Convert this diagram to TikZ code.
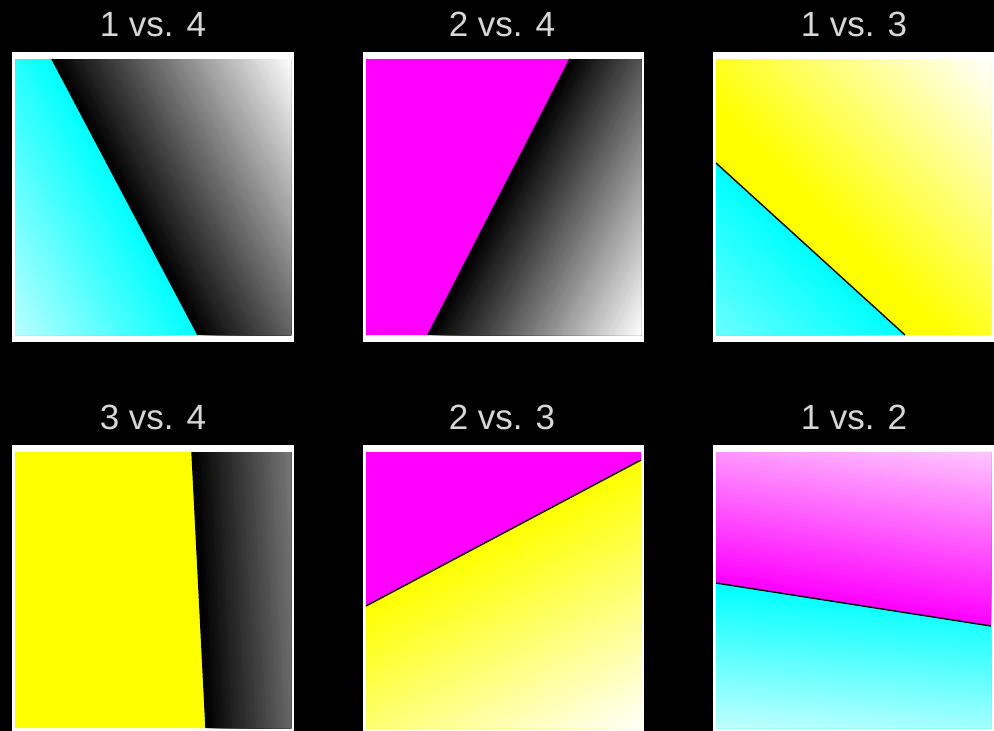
\documentclass[tikz,border=0pt]{standalone}
\usepackage{fontspec}
\setmainfont{Liberation Sans}
\definecolor{cc}{RGB}{0,255,255}
\definecolor{mm}{RGB}{255,0,255}
\definecolor{yy}{RGB}{255,255,0}
\definecolor{titlegray}{RGB}{215,215,215}
% linear gradient inside the current clip: start (#1,#2), vector (#3,#4), colours #5 -> #6
\newcommand\gradfill[6]{%
  \pgfmathsetmacro\gl{veclen(#3,#4)}%
  \pgfmathsetmacro\gux{(#3)/\gl}%
  \pgfmathsetmacro\guy{(#4)/\gl}%
  \fill[#5] (-50,-50) rectangle (1050,800);
  \foreach \gi in {1,...,80}{%
    \pgfmathsetmacro\gt{\gi/80}%
    \pgfmathtruncatemacro\gp{round(100*\gt)}%
    \pgfmathsetmacro\sx{#1+\gt*(#3)}%
    \pgfmathsetmacro\sy{#2+\gt*(#4)}%
    \fill[#6!\gp!#5] ({\sx-800*\guy},{\sy+800*\gux}) -- ({\sx+800*\guy},{\sy-800*\gux})
      -- ({\sx+800*\guy+800*\gux},{\sy-800*\gux+800*\guy})
      -- ({\sx-800*\guy+800*\gux},{\sy+800*\gux+800*\guy}) -- cycle;
  }%
}
\tikzset{
  title/.style={font=\fontsize{35}{42}\selectfont, text=titlegray, anchor=base, inner sep=0pt},
  frame/.style={fill=white},
  bline/.style={draw=black, line width=1.4pt}
}
\begin{document}
\begin{tikzpicture}[x=1pt,y=-1pt]
\useasboundingbox (0,0) rectangle (994,731);
\clip (0,0) rectangle (994,731);
\fill[black] (0,0) rectangle (994,731);

% titles
\node[title] (t1) at (153,36.5) {1 vs. 4};
\node[title] (t2) at (502,36.5) {2 vs. 4};
\node[title] (t3) at (854,36.5) {1 vs. 3};
\node[title] (t4) at (153,429.5) {3 vs. 4};
\node[title] (t5) at (502,429.5) {2 vs. 3};
\node[title] (t6) at (854,429.5) {1 vs. 2};

% frames
\fill[frame] (12,52) rectangle (294,342);
\fill[frame] (362.5,52) rectangle (644,342);
\fill[frame] (712.5,52) rectangle (1000,342);
\fill[frame] (12,445) rectangle (294,740);
\fill[frame] (362.5,445) rectangle (644,740);
\fill[frame] (712.5,445) rectangle (1000,740);

% ---- panel 1: 1 vs. 4
\coordinate (p1a) at (52,59);
\coordinate (p1b) at (198,335);
\begin{scope}
  \clip (15,59) -- (p1a) -- (p1b) -- (15,335) -- cycle;
  \gradfill{52}{59}{-194.5}{103}{cc}{white}
\end{scope}
\begin{scope}
  \clip (p1a) -- (291,59) -- (291,335) -- (p1b) -- cycle;
  \gradfill{52}{59}{186.5}{-98.7}{black}{white}
\end{scope}
\draw[bline] (p1a) -- (p1b);

% ---- panel 2: 2 vs. 4
\coordinate (p2a) at (570,59);
\coordinate (p2b) at (428,335);
\fill[mm] (366,59) -- (p2a) -- (p2b) -- (366,335) -- cycle;
\begin{scope}
  \clip (p2a) -- (641,59) -- (641,335) -- (p2b) -- cycle;
  \gradfill{570}{59}{168}{86.4}{black}{white}
\end{scope}
\draw[bline] (p2a) -- (p2b);

% ---- panel 3: 1 vs. 3
\coordinate (p3a) at (716,163);
\coordinate (p3b) at (905,335);
\begin{scope}
  \clip (716,59) -- (991,59) -- (991,335) -- (p3b) -- (p3a) -- cycle;
  \gradfill{830}{220}{161}{-161}{yy}{white}
\end{scope}
\begin{scope}
  \clip (p3a) -- (p3b) -- (716,335) -- cycle;
  \gradfill{716}{163}{-202}{222}{cc}{white}
\end{scope}
\draw[bline] (p3a) -- (p3b);

% ---- panel 4: 3 vs. 4
\coordinate (p4a) at (192,452);
\coordinate (p4b) at (206,728);
\fill[yy] (15,452) -- (p4a) -- (p4b) -- (15,728) -- cycle;
\begin{scope}
  \clip (p4a) -- (291,452) -- (291,728) -- (p4b) -- cycle;
  \gradfill{192}{452}{209.7}{-10.6}{black}{white}
\end{scope}
\draw[bline] (p4a) -- (p4b);

% ---- panel 5: 2 vs. 3
\coordinate (p5a) at (366,606);
\coordinate (p5b) at (641,460);
\fill[mm] (366,452) -- (641,452) -- (p5b) -- (p5a) -- cycle;
\begin{scope}
  \clip (p5a) -- (p5b) -- (641,728) -- (366,728) -- cycle;
  \gradfill{366}{606}{112.6}{211.9}{yy}{white}
\end{scope}
\draw[bline] (p5a) -- (p5b);

% ---- panel 6: 1 vs. 2
\coordinate (p6a) at (716,583);
\coordinate (p6b) at (991,626);
\begin{scope}
  \clip (716,452) -- (991,452) -- (p6b) -- (p6a) -- cycle;
  \gradfill{716}{583}{34.1}{-217.4}{mm}{white}
\end{scope}
\begin{scope}
  \clip (p6a) -- (p6b) -- (991,728) -- (716,728) -- cycle;
  \gradfill{716}{583}{-15.2}{189.4}{cc}{white}
\end{scope}
\draw[bline] (p6a) -- (p6b);
\end{tikzpicture}
\end{document}
